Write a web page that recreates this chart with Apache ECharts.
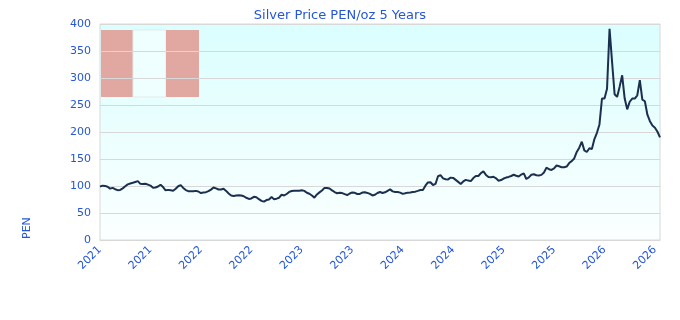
<!DOCTYPE html>
<html>
<head>
<meta charset="utf-8">
<title>Silver Price PEN/oz 5 Years</title>
<script src="https://cdn.jsdelivr.net/npm/echarts@6.0.0/dist/echarts.min.js"></script>
<style>
  html, body { margin: 0; padding: 0; background: #fff; }
  #chart { width: 680px; height: 320px; }
</style>
</head>
<body>
<div id="chart"></div>
<script>
// x axis labels, one every 20 points
var tickLabels = ['2021', '2021', '2022', '2022', '2023', '2023', '2024', '2024', '2025', '2025', '2026', '2026']
var labelStep = 20

// silver price in PEN per oz
var prices = [
  98.8, 100.6, 100.2, 98.5, 95.1, 96.5, 94.0, 92.3, 92.8, 95.6,
  99.5, 103.0, 104.6, 106.0, 107.5, 109.0, 104.0, 103.5, 104.2, 102.5,
  100.8, 96.8, 97.2, 99.0, 102.4, 98.0, 92.0, 92.8, 92.0, 91.2,
  95.0, 99.5, 101.6, 96.5, 92.5, 90.5, 90.3, 90.1, 91.0, 89.8,
  87.0, 87.8, 88.6, 90.5, 93.3, 97.3, 95.5, 93.6, 93.4, 94.8,
  90.9, 86.0, 82.3, 81.6, 82.5, 82.7, 82.3, 81.0, 78.2, 76.0,
  77.0, 80.0, 79.2, 75.6, 72.5, 71.0, 74.0, 75.0, 79.5, 75.6,
  76.5, 78.3, 83.8, 82.5, 85.2, 89.0, 90.8, 91.4, 91.4, 91.4,
  92.0, 91.0, 87.5, 85.7, 82.3, 78.5, 84.3, 88.2, 91.8, 96.5,
  96.2, 95.3, 92.0, 88.8, 86.6, 87.6, 86.9, 84.9, 83.3, 86.1,
  88.1, 87.3, 85.2, 85.2, 87.8, 88.4, 87.2, 85.3, 82.5, 83.8,
  87.0, 88.9, 87.0, 88.3, 91.0, 93.7, 90.0, 88.9, 88.8, 87.7,
  85.4, 86.5, 87.7, 87.8, 88.7, 89.5, 91.0, 92.6, 92.6, 100.5,
  106.6, 107.0, 101.8, 103.8, 118.0, 120.0, 114.2, 112.4, 112.2, 115.5,
  115.0, 111.3, 107.6, 103.8, 108.4, 111.3, 110.0, 109.0, 114.8, 118.5,
  118.5, 124.0, 127.0, 120.5, 116.6, 116.4, 117.1, 114.3, 109.9, 111.0,
  113.8, 115.6, 116.8, 118.5, 120.8, 118.9, 117.6, 121.2, 123.4, 113.0,
  116.0,
  120.8, 121.8, 120.0, 119.6, 120.6, 125.0, 134.0, 131.0, 129.8, 132.5,
  138.0, 136.5, 134.8, 134.8, 136.0, 142.5, 146.0, 151.0, 163.0, 171.0,
  182.0, 166.0, 163.0, 170.0, 168.5, 187.0, 198.5, 214.0, 262.0, 262.0,
  280.0, 391.0, 330.0, 270.0, 265.0, 284.0, 305.0, 262.0, 242.0, 256.0,
  262.0, 262.0, 268.0, 296.0, 260.0, 257.0, 232.0, 220.0, 212.0, 208.0,
  200.5, 190.0
]

var yTicks = { min: 0, max: 400, interval: 50 }

var textBlue = '#2456d6'
var fontName = 'DejaVu Sans'

var categories = []
for (var i = 0; i < prices.length; i++) {
  categories.push(String(i))
}

var myChart = echarts.init(document.getElementById('chart'))

var option = {
  animation: false,
  backgroundColor: '#fff',
  title: {
    text: 'Silver Price PEN/oz 5 Years',
    left: 'center',
    top: 4,
    textStyle: {
      color: textBlue,
      fontFamily: fontName,
      fontSize: 13,
      fontWeight: 'normal'
    }
  },
  grid: {
    left: 100,
    right: 20,
    top: 24,
    bottom: 80,
    show: true,
    borderColor: '#d8d8d8',
    borderWidth: 1,
    backgroundColor: 'transparent'
  },
  // plot background and the faded flag behind the grid lines
  graphic: [
    {
      type: 'rect',
      z: -10,
      shape: { x: 100, y: 24, width: 560, height: 216 },
      style: {
        fill: new echarts.graphic.LinearGradient(0, 0, 0, 1, [
          { offset: 0, color: '#dbfefe' },
          { offset: 1, color: '#fbffff' }
        ])
      }
    },
    {
      type: 'rect',
      z: -9,
      shape: { x: 101, y: 30, width: 32, height: 67 },
      style: { fill: '#e0a8a0' }
    },
    {
      type: 'rect',
      z: -9,
      shape: { x: 133, y: 30, width: 33, height: 67 },
      style: { fill: '#effefe', stroke: '#e4eaea', lineWidth: 1 }
    },
    {
      type: 'rect',
      z: -9,
      shape: { x: 166, y: 30, width: 33, height: 67 },
      style: { fill: '#e0a8a0' }
    },
    {
      type: 'text',
      x: 27,
      y: 239,
      rotation: Math.PI / 2,
      style: {
        text: 'PEN',
        fill: textBlue,
        font: '11px "DejaVu Sans"',
        textAlign: 'left',
        textVerticalAlign: 'middle'
      }
    }
  ],
  xAxis: {
    type: 'category',
    boundaryGap: false,
    data: categories,
    axisTick: { show: false },
    axisLine: { lineStyle: { color: '#d8d8d8' } },
    axisLabel: {
      interval: labelStep - 1,
      rotate: 45,
      margin: 8,
      color: textBlue,
      fontFamily: fontName,
      fontSize: 11,
      formatter: function (value, idx) {
        return tickLabels[Math.round(idx / labelStep)] || ''
      }
    },
    splitLine: { show: false }
  },
  yAxis: {
    type: 'value',
    min: yTicks.min,
    max: yTicks.max,
    interval: yTicks.interval,
    axisLine: { show: false },
    axisTick: { show: false },
    axisLabel: {
      color: textBlue,
      fontFamily: fontName,
      fontSize: 11,
      margin: 9
    },
    splitLine: { lineStyle: { color: '#d8d8d8' } }
  },
  series: [{
    type: 'line',
    data: prices,
    symbol: 'none',
    lineStyle: { color: '#1b2f4f', width: 2 },
    itemStyle: { color: '#1b2f4f' }
  }]
}

myChart.setOption(option)
</script>
</body>
</html>
